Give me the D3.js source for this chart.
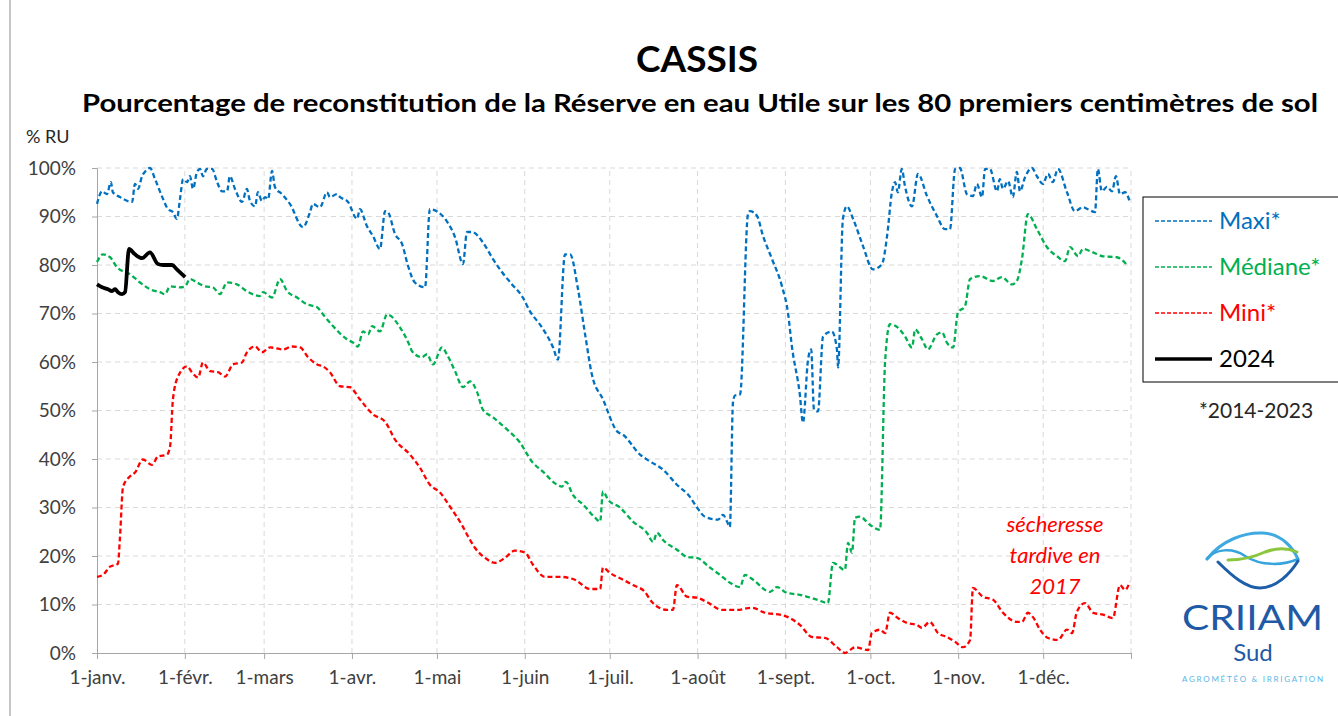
<!DOCTYPE html>
<html>
<head>
<meta charset="utf-8">
<script src="https://cdn.jsdelivr.net/npm/d3@7"></script>
<style>
  body { margin: 0; background: #fff; }
  svg { display: block; font-family: Lato, "Open Sans", sans-serif; }
</style>
</head>
<body>
<div id="container"></div>
<script>
const width = 1338;
const height = 716;

// day of year (0 = 1 Jan) and % RU
const maxi = [[0,92.6],[1.8,95.2],[3.5,94.6],[4.9,97.1],[5.6,95],[8.1,94],[12.4,93],[13.4,96.7],[14.5,95.7],[15.9,98.3],[16.9,99.2],[18.7,100],[20.5,97.7],[22.9,94.2],[25.1,91.5],[26.8,90.9],[28.2,89.5],[29.3,93.6],[30.4,97.7],[31.8,97.1],[32.8,98.3],[33.9,95.7],[35.3,99.2],[36.4,99.8],[37.4,98.3],[38.8,99.8],[40.6,99.8],[42.4,97.1],[44.1,95.2],[45.9,95.2],[46.9,98.3],[48.7,95.7],[51.2,93],[52.9,95.7],[54,93.2],[55.8,92.1],[56.8,95],[58.2,93.2],[59.3,94],[60.4,93.6],[61.8,99.4],[62.8,96.1],[65.3,94.6],[68.1,92.6],[72.7,87.8],[75.2,90.9],[76.2,92.6],[78.7,91.9],[81.2,95],[82.2,94],[84.7,94.6],[85.8,94],[88.6,93],[91.8,89.5],[92.8,91.5],[95.3,88],[97.4,86],[99.9,83.3],[101.7,91.1],[102.7,90.9],[105.2,86.4],[107.7,84.3],[109.8,79.8],[112.2,76.4],[115.8,75.4],[117.5,91.5],[120.4,90.9],[123.5,89],[126.4,85.7],[129.2,80.2],[130.6,86.8],[132.4,86.8],[136.2,84.7],[139.8,81.2],[143,78.5],[146.5,76],[150,73.6],[152.8,70.5],[157.1,67.1],[161,63],[162.7,60.5],[165.2,82.2],[167,82.2],[169.8,75],[172.3,65.7],[174.7,57.4],[178.6,52.3],[183.6,45.7],[185.7,45],[191.7,40.9],[195.2,39.5],[199.8,37.8],[204.7,34.7],[209.3,32.2],[211.8,30],[214.6,28.1],[219.2,27.5],[221,28.5],[222.4,27.1],[223.4,26],[224.5,51.7],[225.2,53.1],[227,53.3],[229.8,90.5],[230.5,91.1],[233,90.1],[235.1,86],[238.3,81.2],[241.8,75.6],[243.9,70.2],[245.3,63.2],[248.1,53.3],[249.2,47.5],[251,60.5],[252.1,62.6],[253.1,50.2],[254.5,49.8],[256.3,65.3],[259.4,66.3],[261.2,62.6],[261.6,58.9],[263.3,89.5],[264.7,92.1],[266.9,89.5],[270.4,83.9],[273.9,79.1],[277.1,80.2],[278.9,86],[280.6,95],[281.7,97.1],[282.7,95],[284.1,99.8],[285.2,96.3],[287.7,92.1],[289.8,98.8],[293,94.2],[296.5,90.1],[299.3,87.4],[301.1,87.4],[302.9,99.8],[304.6,100],[307.1,94.6],[309.2,94.2],[310.6,96.7],[312.4,94],[313.5,99.8],[315.2,99.8],[317.7,95.2],[318.7,97.7],[319.8,95.7],[321.6,97.3],[323.3,94],[324.7,99.2],[325.8,95.2],[327.6,98.1],[330,100],[331.8,98.3],[333.9,96.7],[335.7,98.8],[337.4,97.1],[339.2,99.8],[342.4,95],[345.2,91.1],[348,91.9],[349.8,91.5],[352.3,90.9],[353.3,99.8],[354.7,95.2],[356.5,96.1],[358.3,95.2],[359.7,98.3],[361.1,94.6],[362.9,95],[364.6,93]];

const mediane = [[0,80.6],[2.1,82.2],[4.6,81.6],[7.1,79.5],[11.6,78.1],[15.2,76.4],[18.7,75],[22.2,74.4],[24,74],[25.8,75.6],[29.3,75.4],[31.1,75.6],[32.8,77.1],[35.3,76.4],[38.1,75.6],[40.9,75.4],[43.4,74],[45.9,76.4],[49.4,76],[52.9,74.6],[57.5,73.6],[58.6,74.4],[61.8,73.3],[64.6,77.1],[67.1,74.6],[70.6,73.3],[74.1,71.9],[77.7,71.3],[79.8,69.8],[83.3,67.4],[88.2,64.7],[90.4,64],[92.1,63.2],[93.9,66.3],[95.7,65.7],[97.1,67.4],[99.9,66.3],[102.4,69.8],[107,67.1],[110.5,63.2],[111.2,62.2],[114.7,61],[116.5,61.6],[118.6,59.5],[121.8,63],[123.5,61.6],[126.4,58.1],[129.2,54.8],[131.7,56],[134.1,53.9],[136.2,50.2],[139.8,48.6],[144.7,46.1],[149.3,43.4],[153.5,39.5],[157.4,37.4],[162.4,34.7],[164.1,34.3],[165.5,35.3],[168,32.6],[171.6,30.6],[175.8,27.9],[177.6,27.1],[178.6,33.3],[180.4,31.6],[184.6,30],[189.2,27.1],[194.1,24.8],[196.3,22.9],[197.7,24.8],[199.8,23.3],[204.7,21.3],[208.3,19.8],[211.8,19.6],[216.4,17.6],[219.9,16.1],[223.4,14.5],[227,13.6],[228.7,16.1],[231.6,15.1],[237.6,12.6],[240,13.6],[243.5,12.4],[248.1,12],[254.1,11],[258,10.3],[259.8,18.6],[264,17.1],[265.1,22.7],[266.5,20.7],[267.6,27.9],[269.3,28.1],[272.9,26.4],[276.4,25.4],[278.2,60.1],[279.9,67.8],[282.7,67.1],[285.2,65.3],[287.7,63],[288.8,66.7],[291.2,64.7],[293.3,62.6],[296.5,65.7],[298.3,66.1],[300,64],[302.2,63],[303.9,70.2],[306.4,71.5],[308.2,77.1],[311.7,77.7],[316.3,76.7],[319.4,77.5],[323,76],[324.7,76.7],[326.5,81.2],[328.6,90.5],[331.8,87.4],[335.3,83.7],[338.9,81.8],[341.7,80.8],[343.5,83.7],[346.3,81.8],[348,83.3],[351.6,82.6],[355.1,81.8],[360,81.6],[363.9,79.8]];

const mini = [[0,15.7],[2.1,16.1],[4.6,17.8],[7.4,18.4],[8.1,23.8],[9.2,34.3],[11.6,36.4],[13.4,37.2],[16.2,39.9],[19.4,38.8],[21.5,40.5],[24.7,40.9],[25.8,42.6],[26.8,52.3],[28.6,57],[31.8,59.1],[33.5,57.9],[35.7,56.8],[37.4,59.9],[39.9,58.1],[42.7,57.9],[45.2,57],[48,59.5],[51.2,59.9],[52.9,62],[55.8,63.2],[58.2,62],[61.1,63],[65.7,62.6],[68.8,63.2],[71.7,63],[74.5,61],[77.7,59.5],[79.8,59.1],[82.2,57.9],[85.8,55],[89.3,54.8],[92.8,52.3],[97.4,49.2],[101.7,47.7],[105.2,44],[110.5,40.9],[114,38.2],[117.5,34.7],[121.1,33.1],[124.6,30.2],[128.8,26.4],[131.7,23.3],[133.4,21.7],[137,19.6],[140.5,18.6],[144,19.6],[147.5,21.1],[151.1,20.7],[153.9,18.2],[158.1,15.7],[163.4,15.7],[168.7,15.1],[174,13.2],[177.6,13.2],[178.6,17.6],[181.1,16.5],[185.7,15.1],[189.2,14],[193.4,12.6],[195.9,10.5],[201.2,8.9],[203.3,8.9],[204.7,14],[208.3,11.6],[211.8,11.4],[215.3,10.5],[220.6,8.9],[225.9,8.9],[231.2,9.3],[235.8,8.3],[241.1,7.9],[243.9,7.4],[248.1,5.8],[252.4,3.3],[257,3.1],[261.2,1.2],[264,0],[265.8,0.6],[267.6,1.2],[272.2,0.6],[273.5,4.1],[276.4,4.8],[278.2,4.1],[279.9,8.3],[282.7,7.2],[285.9,6.2],[289.4,5.8],[291.2,5.2],[294,6.4],[296.9,4.1],[300,3.3],[302.9,2.3],[305.7,1.2],[308.2,2.7],[309.2,13.4],[312.7,11.6],[316.3,11],[319.8,8.3],[324.7,6.4],[326.5,6.4],[328.6,8.3],[330.4,7.4],[332.9,4.8],[335.7,3.1],[339.2,2.7],[342.4,4.8],[344.2,4.1],[345.9,8.5],[348.8,10.3],[351.6,8.3],[355.1,7.9],[358.6,7.2],[361.1,14],[362.9,13],[364.6,14.7]];

const year2024 = [[0,76],[1.8,75.4],[3.9,75],[5.3,74.6],[6.4,75],[7.4,74.4],[8.8,74],[9.9,74.4],[11.3,83.3],[13.4,82.2],[15.9,81.4],[18.7,82.6],[21.5,80.2],[23.3,80],[26.5,80],[28.2,79.1],[31.1,77.5]];

const monthStarts = [0, 31, 59, 90, 120, 151, 181, 212, 243, 273, 304, 334, 365];
const monthLabels = ["1-janv.", "1-févr.", "1-mars", "1-avr.", "1-mai", "1-juin", "1-juil.", "1-août", "1-sept.", "1-oct.", "1-nov.", "1-déc."];
const yTicks = [0, 10, 20, 30, 40, 50, 60, 70, 80, 90, 100];

const series = [
  { name: "Maxi*", data: maxi, color: "#0070C0", dash: "5,3", w: 2.3 },
  { name: "Médiane*", data: mediane, color: "#00B050", dash: "5,3", w: 2.3 },
  { name: "Mini*", data: mini, color: "#FF0000", dash: "5,3", w: 2.3 },
  { name: "2024", data: year2024, color: "#000000", dash: null, w: 3.8 }
];

const x = d3.scaleLinear().domain([0, 365]).range([97, 1131]);
const y = d3.scaleLinear().domain([0, 100]).range([653, 168]);

const svg = d3.select("#container")
  .append("svg")
  .attr("width", width)
  .attr("height", height)
  .attr("viewBox", [0, 0, width, height]);

// outer frame edge
svg.append("line")
  .attr("x1", 10).attr("x2", 10).attr("y1", 0).attr("y2", height)
  .attr("stroke", "#8c8c8c").attr("stroke-width", 1);

// titles
svg.append("text")
  .attr("x", 697).attr("y", 72)
  .attr("text-anchor", "middle")
  .attr("font-size", 37).attr("font-weight", "bold")
  .text("CASSIS");

svg.append("text")
  .attr("x", 82).attr("y", 112)
  .attr("font-size", 24).attr("font-weight", "bold")
  .attr("textLength", 1236).attr("lengthAdjust", "spacingAndGlyphs")
  .text("Pourcentage de reconstitution de la Réserve en eau Utile sur les 80 premiers centimètres de sol");

svg.append("text")
  .attr("x", 26).attr("y", 143)
  .attr("font-size", 18).attr("fill", "#262626")
  .text("% RU");

// grid
svg.append("g")
  .selectAll("line")
  .data(yTicks.slice(1))
  .join("line")
  .attr("x1", x(0)).attr("x2", x(365))
  .attr("y1", d => y(d)).attr("y2", d => y(d))
  .attr("stroke", "#d9d9d9").attr("stroke-dasharray", "5,4");

svg.append("g")
  .selectAll("line")
  .data(monthStarts.slice(1))
  .join("line")
  .attr("x1", d => x(d)).attr("x2", d => x(d))
  .attr("y1", y(0)).attr("y2", y(100))
  .attr("stroke", "#d9d9d9").attr("stroke-dasharray", "5,4");

// axes
const yAxis = svg.append("g")
  .attr("transform", `translate(${x(0)},0)`)
  .call(d3.axisLeft(y).tickValues(yTicks).tickFormat(d => d + "%").tickSize(5).tickPadding(16));

const xAxis = svg.append("g")
  .attr("transform", `translate(0,${y(0)})`)
  .call(d3.axisBottom(x).tickValues(monthStarts).tickFormat((d, i) => monthLabels[i] || "").tickSize(6).tickPadding(12));

[yAxis, xAxis].forEach(g => {
  g.select(".domain").attr("stroke", "#a6a6a6");
  g.selectAll(".tick line").attr("stroke", "#a6a6a6");
  g.selectAll("text").attr("font-family", "Lato, sans-serif").attr("font-size", 19).attr("fill", "#404040");
});

// series
const line = d3.line()
  .x(d => x(d[0]))
  .y(d => y(d[1]))
  .curve(d3.curveMonotoneX);

svg.append("g")
  .selectAll("path")
  .data(series)
  .join("path")
  .attr("fill", "none")
  .attr("stroke", d => d.color)
  .attr("stroke-width", d => d.w)
  .attr("stroke-dasharray", d => d.dash)
  .attr("stroke-linejoin", "round")
  .attr("d", d => line(d.data));

// legend
const legend = svg.append("g");
legend.append("rect")
  .attr("x", 1143).attr("y", 197)
  .attr("width", 210).attr("height", 185)
  .attr("fill", "#fff").attr("stroke", "#000").attr("stroke-width", 1);

const legendRows = [221, 267, 313, 359];
series.forEach((s, i) => {
  legend.append("line")
    .attr("x1", 1155).attr("x2", 1212)
    .attr("y1", legendRows[i]).attr("y2", legendRows[i])
    .attr("stroke", s.color)
    .attr("stroke-width", s.dash ? 1.5 : 3.5)
    .attr("stroke-dasharray", s.dash ? "4,2" : null);
  legend.append("text")
    .attr("x", 1219).attr("y", legendRows[i] + 8)
    .attr("font-size", 24)
    .attr("fill", s.dash ? s.color : "#000")
    .text(s.name);
});

svg.append("text")
  .attr("x", 1256).attr("y", 418)
  .attr("text-anchor", "middle")
  .attr("font-size", 21).attr("fill", "#262626")
  .text("*2014-2023");

// annotation
const note = svg.append("text")
  .attr("text-anchor", "middle")
  .attr("font-size", 22).attr("font-style", "italic")
  .attr("fill", "#FF0000");
["sécheresse", "tardive en", "2017"].forEach((t, i) => {
  note.append("tspan").attr("x", 1055).attr("y", 532 + i * 31).text(t);
});

// logo
const logo = svg.append("g").attr("fill", "none").attr("stroke-linecap", "round");
logo.append("path")
  .attr("d", "M1207,559 C1222,540 1245,532 1263,533 C1282,534 1293,548 1298,559")
  .attr("stroke", "#3fa9e0").attr("stroke-width", 3);
logo.append("path")
  .attr("d", "M1207,559 C1215,549 1232,547 1245,556 C1262,567 1285,565 1298,559")
  .attr("stroke", "#36a3dc").attr("stroke-width", 2.5);
logo.append("path")
  .attr("d", "M1228,560 C1240,560 1252,558 1265,552 C1278,547 1288,548 1297,552")
  .attr("stroke", "#8cc63f").attr("stroke-width", 3);
logo.append("path")
  .attr("d", "M1218,562 C1232,576 1246,588 1260,588 C1276,588 1290,574 1298,561")
  .attr("stroke", "#1d5ea8").attr("stroke-width", 3);

svg.append("text")
  .attr("x", 1182).attr("y", 630)
  .attr("font-size", 34).attr("fill", "#1f5aa6")
  .attr("textLength", 141).attr("lengthAdjust", "spacingAndGlyphs")
  .text("CRIIAM");
svg.append("text")
  .attr("x", 1253).attr("y", 661)
  .attr("text-anchor", "middle")
  .attr("font-size", 24).attr("fill", "#1f5aa6")
  .text("Sud");
svg.append("text")
  .attr("x", 1182).attr("y", 682)
  .attr("font-size", 8).attr("fill", "#5bb5e5")
  .attr("textLength", 141).attr("lengthAdjust", "spacing")
  .text("AGROMÉTÉO & IRRIGATION");
</script>
</body>
</html>
